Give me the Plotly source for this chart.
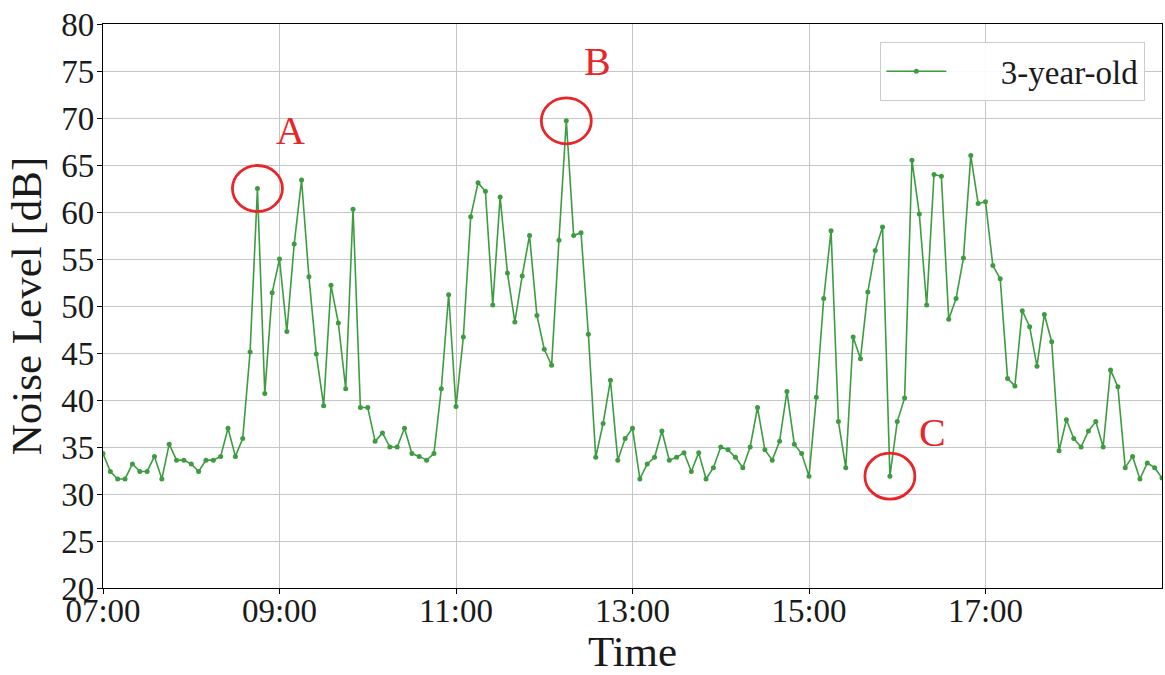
import pandas as pd
import plotly.graph_objects as go

# Noise level sampled every 5 minutes from 07:00 to 19:00
noise_db = [
    34.3, 32.4, 31.6, 31.6, 33.2, 32.4, 32.4, 34.0, 31.6, 35.3,
    33.6, 33.6, 33.2, 32.4, 33.6, 33.6, 34.0, 37.0, 34.0, 35.9,
    45.1, 62.5, 40.7, 51.4, 55.0, 47.3, 56.6, 63.4, 53.1, 44.9,
    39.4, 52.2, 48.2, 41.2, 60.3, 39.2, 39.2, 35.6, 36.5, 35.0,
    35.0, 37.0, 34.3, 34.0, 33.6, 34.3, 41.2, 51.2, 39.3, 46.7,
    59.5, 63.1, 62.2, 50.1, 61.6, 53.5, 48.3, 53.2, 57.5, 49.0,
    45.4, 43.7, 57.0, 69.7, 57.5, 57.8, 47.0, 33.9, 37.5, 42.1,
    33.6, 35.9, 37.0, 31.6, 33.2, 33.9, 36.7, 33.6, 33.9, 34.4,
    32.4, 34.4, 31.6, 32.8, 35.0, 34.7, 33.9, 32.8, 35.0, 39.2,
    34.7, 33.6, 35.6, 40.9, 35.3, 34.3, 31.9, 40.3, 50.8, 58.0,
    37.7, 32.8, 46.7, 44.4, 51.5, 55.9, 58.4, 31.9, 37.7, 40.2,
    65.5, 59.8, 50.1, 64.0, 63.8, 48.6, 50.8, 55.1, 66.0, 60.9,
    61.1, 54.3, 52.9, 42.3, 41.5, 49.5, 47.8, 43.6, 49.1, 46.2,
    34.6, 37.9, 35.9, 35.0, 36.7, 37.7, 35.0, 43.2, 41.4, 32.8,
    34.0, 31.6, 33.3, 32.8, 31.7,
]
tick_labels = ["07:00", "09:00", "11:00", "13:00", "15:00", "17:00"]
series_name = "3-year-old"

# Marked events: label, sample index
events = [("A", 21), ("B", 63), ("C", 107)]
# label offset from the marked point, in pixels (dx, dy)
label_offsets = {"A": (33, 58), "B": (31, 59), "C": (43, 44)}

day = "2024-01-01"
times = pd.date_range(f"{day} 07:00", periods=len(noise_db), freq="5min")
tick_vals = [pd.Timestamp(f"{day} {t}") for t in tick_labels]

GREEN = "#3d9c40"
RED = "#e8262a"
SERIF = "Liberation Serif, Times New Roman, serif"

fig = go.Figure()
fig.add_trace(go.Scatter(
    x=times, y=noise_db, mode="lines+markers",
    # leading spaces widen the gap between the legend sample and its text
    name="\u2003\u2002" + series_name,
    line=dict(color=GREEN, width=1.6),
    marker=dict(color=GREEN, size=5),
))

for label, idx in events:
    fig.add_shape(
        type="circle", xref="x", yref="y",
        xsizemode="pixel", ysizemode="pixel",
        xanchor=times[idx], yanchor=noise_db[idx],
        x0=-25, x1=25, y0=-23, y1=23,
        line=dict(color=RED, width=2.8),
    )
    dx, dy = label_offsets[label]
    fig.add_annotation(
        x=times[idx], y=noise_db[idx], text=label, showarrow=False,
        xshift=dx, yshift=dy,
        font=dict(family=SERIF, size=40, color=RED),
    )

axis_common = dict(
    showline=True, linecolor="black", linewidth=1.3, mirror=True,
    showgrid=True, gridcolor="#c6c6c6", gridwidth=1.2,
    ticks="outside", ticklen=5, tickwidth=1.2, tickcolor="black",
    tickfont=dict(family=SERIF, size=33, color="#1a1a1a"),
    zeroline=False,
)

fig.update_xaxes(
    **axis_common,
    range=[times[0], times[-1]],
    tickvals=tick_vals, ticktext=tick_labels,
    ticklabelstandoff=-12,
    title=dict(text="Time", font=dict(family=SERIF, size=43, color="#1a1a1a"), standoff=4),
)
fig.update_yaxes(
    **axis_common,
    range=[20, 80], dtick=5, tick0=20,
    ticklabelstandoff=-4,
    title=dict(text="Noise Level [dB]", font=dict(family=SERIF, size=43, color="#1a1a1a"), standoff=6),
)

fig.update_layout(
    width=1165, height=675,
    margin=dict(l=103, r=3, t=24, b=87, autoexpand=False),
    paper_bgcolor="white", plot_bgcolor="white",
    showlegend=True,
    legend=dict(
        x=0.984, y=0.968, xanchor="right", yanchor="top",
        bgcolor="rgba(255,255,255,0.9)", bordercolor="#cccccc", borderwidth=1.3,
        font=dict(family=SERIF, size=33, color="#1a1a1a"),
        itemwidth=60,
    ),
)

fig.write_html("out.html")
